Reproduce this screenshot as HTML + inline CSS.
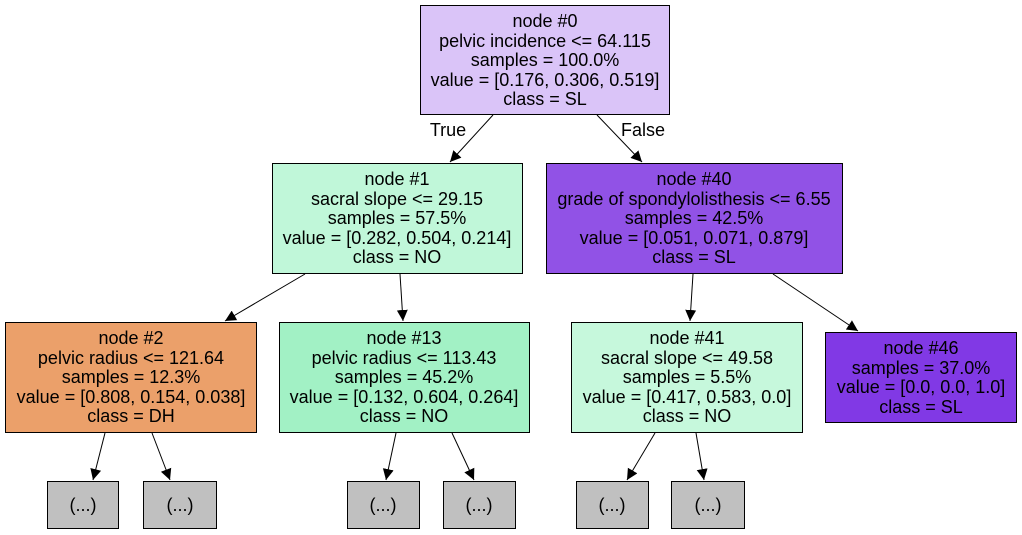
<!DOCTYPE html>
<html><head><style>body{margin:0;background:#fff}svg{display:block}</style></head><body>
<svg width="1022" height="535" xmlns="http://www.w3.org/2000/svg" font-family="Liberation Sans, sans-serif" font-size="18">
<defs><marker id="a" markerWidth="12" markerHeight="12" refX="11" refY="6" orient="auto" markerUnits="userSpaceOnUse"><path d="M0,0.5 L11,6 L0,11.5 z" fill="#000"/></marker></defs>
<g stroke="#000" stroke-width="1" fill="none">
<line x1="493" y1="115" x2="450" y2="162" marker-end="url(#a)"/>
<line x1="597" y1="115" x2="642" y2="162" marker-end="url(#a)"/>
<line x1="305" y1="274" x2="225" y2="321" marker-end="url(#a)"/>
<line x1="400" y1="274" x2="403" y2="321" marker-end="url(#a)"/>
<line x1="693" y1="274" x2="690" y2="321" marker-end="url(#a)"/>
<line x1="773" y1="274" x2="858" y2="331" marker-end="url(#a)"/>
<line x1="105" y1="433" x2="93" y2="480" marker-end="url(#a)"/>
<line x1="152" y1="433" x2="170" y2="480" marker-end="url(#a)"/>
<line x1="396" y1="433" x2="386" y2="480" marker-end="url(#a)"/>
<line x1="452" y1="433" x2="474" y2="480" marker-end="url(#a)"/>
<line x1="655" y1="433" x2="627" y2="480" marker-end="url(#a)"/>
<line x1="696" y1="433" x2="704" y2="480" marker-end="url(#a)"/>
</g>
<g stroke="#000" stroke-width="1">
<rect x="420.5" y="5.5" width="249" height="109" fill="#dac4f8"/>
<rect x="272.5" y="163.5" width="250" height="110" fill="#c0f7d9"/>
<rect x="546.5" y="163.5" width="296" height="110" fill="#9152e6"/>
<rect x="5.5" y="322.5" width="251" height="110" fill="#eba06a"/>
<rect x="279.5" y="322.5" width="250" height="110" fill="#a2f1c5"/>
<rect x="571.5" y="322.5" width="231" height="110" fill="#c6f8dc"/>
<rect x="825.5" y="332.5" width="191" height="90" fill="#8139e5"/>
<g fill="#c0c0c0">
<rect x="47.5" y="481.5" width="71" height="47"/>
<rect x="143.5" y="481.5" width="73" height="47"/>
<rect x="347.5" y="481.5" width="72" height="47"/>
<rect x="443.5" y="481.5" width="72" height="47"/>
<rect x="576.5" y="481.5" width="72" height="47"/>
<rect x="671.5" y="481.5" width="73" height="47"/>
</g>
</g>
<g text-anchor="middle" fill="#000">
<text x="448" y="136">True</text><text x="643" y="136">False</text>
<text x="545" y="27">node #0</text><text x="545" y="47">pelvic incidence &lt;= 64.115</text><text x="545" y="66">samples = 100.0%</text><text x="545" y="86">value = [0.176, 0.306, 0.519]</text><text x="545" y="105">class = SL</text>
<text x="397" y="185">node #1</text><text x="397" y="205">sacral slope &lt;= 29.15</text><text x="397" y="224">samples = 57.5%</text><text x="397" y="244">value = [0.282, 0.504, 0.214]</text><text x="397" y="263">class = NO</text>
<text x="694" y="185">node #40</text><text x="694" y="205">grade of spondylolisthesis &lt;= 6.55</text><text x="694" y="224">samples = 42.5%</text><text x="694" y="244">value = [0.051, 0.071, 0.879]</text><text x="694" y="263">class = SL</text>
<text x="131" y="344">node #2</text><text x="131" y="364">pelvic radius &lt;= 121.64</text><text x="131" y="383">samples = 12.3%</text><text x="131" y="403">value = [0.808, 0.154, 0.038]</text><text x="131" y="422">class = DH</text>
<text x="404" y="344">node #13</text><text x="404" y="364">pelvic radius &lt;= 113.43</text><text x="404" y="383">samples = 45.2%</text><text x="404" y="403">value = [0.132, 0.604, 0.264]</text><text x="404" y="422">class = NO</text>
<text x="687" y="344">node #41</text><text x="687" y="364">sacral slope &lt;= 49.58</text><text x="687" y="383">samples = 5.5%</text><text x="687" y="403">value = [0.417, 0.583, 0.0]</text><text x="687" y="422">class = NO</text>
<text x="921" y="354">node #46</text><text x="921" y="374">samples = 37.0%</text><text x="921" y="393">value = [0.0, 0.0, 1.0]</text><text x="921" y="413">class = SL</text>
<text x="83" y="511">(...)</text><text x="180" y="511">(...)</text><text x="383" y="511">(...)</text><text x="479" y="511">(...)</text><text x="612" y="511">(...)</text><text x="708" y="511">(...)</text>
</g>
</svg>
</body></html>
